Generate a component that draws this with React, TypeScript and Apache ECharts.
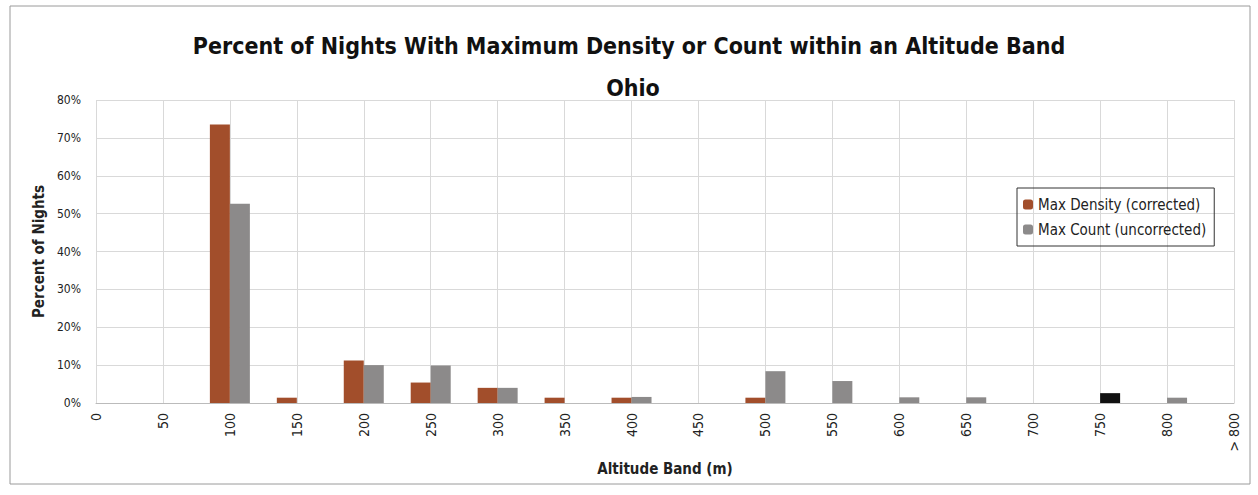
import React, { useEffect, useRef } from "react";
import * as echarts from "echarts";

const categories = ["0", "50", "100", "150", "200", "250", "300", "350", "400", "450", "500", "550", "600", "650", "700", "750", "800", "> 800"];
const maxDensity = [0, 0, 73.5, 1.4, 11.2, 5.4, 4.0, 1.4, 1.4, 0, 1.4, 0, 0, 0, 0, 0, 0, 0];
const maxCount = [0, 0, 52.6, 0, 10.0, 9.9, 4.0, 0, 1.6, 0, 8.4, 5.8, 1.5, 1.5, 0, 2.6, 1.4, 0];
const highlightIndex = 15;
const yTicks = [0, 10, 20, 30, 40, 50, 60, 70, 80];

const FONT = "'Liberation Sans Narrow', 'DejaVu Sans Condensed', sans-serif";

export default function App() {
  const ref = useRef<HTMLDivElement>(null);
  useEffect(() => {
    document.body.style.margin = "0";
    const chart = echarts.init(ref.current!, null, { renderer: "svg" });
    chart.setOption({
      animation: false,
      backgroundColor: "#ffffff",
      textStyle: { fontFamily: FONT },
      title: [
        {
          text: "Percent of Nights With Maximum Density or Count within an Altitude Band",
          left: "center",
          top: 29,
          textStyle: { fontSize: 23, fontWeight: "bold", color: "#111", fontFamily: FONT },
        },
        {
          text: "Ohio",
          left: 628,
          top: 71,
          textAlign: "center",
          textStyle: { fontSize: 23, fontWeight: "bold", color: "#111", fontFamily: FONT },
        },
      ],
      graphic: [
        {
          type: "rect",
          shape: { x: 10, y: 6, width: 1240, height: 478 },
          style: { fill: "none", stroke: "#9a9a9a", lineWidth: 1 },
          silent: true,
        },
      ],
      legend: {
        orient: "vertical",
        left: 1017,
        top: 188,
        itemWidth: 10,
        itemHeight: 10,
        itemGap: 10,
        padding: [9, 8, 9, 6],
        borderColor: "#333",
        borderWidth: 1,
        textStyle: { fontSize: 15, color: "#222", fontFamily: FONT },
        data: ["Max Density (corrected)", "Max Count (uncorrected)"],
      },
      grid: { left: 96, right: 24, top: 100, bottom: 92 },
      xAxis: {
        type: "category",
        data: categories,
        boundaryGap: false,
        name: "Altitude Band (m)",
        nameLocation: "middle",
        nameGap: 58,
        nameTextStyle: { fontSize: 15, fontWeight: "bold", color: "#222", fontFamily: FONT },
        axisLine: { show: true, lineStyle: { color: "#bbb" } },
        axisTick: { show: false },
        axisLabel: { rotate: 90, fontSize: 14, color: "#222", margin: 10, interval: 0, fontFamily: FONT },
        splitLine: { show: true, lineStyle: { color: "#d9d9d9" } },
      },
      yAxis: {
        type: "value",
        min: 0,
        max: 80,
        interval: 10,
        name: "Percent of Nights",
        nameLocation: "middle",
        nameGap: 46,
        nameTextStyle: { fontSize: 15, fontWeight: "bold", color: "#222", fontFamily: FONT },
        axisLine: { show: false },
        axisTick: { show: false },
        axisLabel: {
          fontSize: 12,
          color: "#222",
          margin: 15,
          fontFamily: FONT,
          formatter: (v: number) => (yTicks.includes(v) ? v + "%" : ""),
        },
        splitLine: { show: true, lineStyle: { color: "#d9d9d9" } },
      },
      series: [
        {
          name: "Max Density (corrected)",
          type: "bar",
          data: maxDensity,
          barWidth: 20,
          barGap: "0%",
          itemStyle: { color: "#a24e2b" },
        },
        {
          name: "Max Count (uncorrected)",
          type: "bar",
          data: maxCount.map((v, i) =>
            i === highlightIndex ? { value: v, itemStyle: { color: "#111111" } } : v
          ),
          barWidth: 20,
          itemStyle: { color: "#8c8a8a" },
        },
      ],
    });
    return () => chart.dispose();
  }, []);
  return <div ref={ref} style={{ width: 1258, height: 495, position: "absolute", left: 0, top: 0 }} />;
}
